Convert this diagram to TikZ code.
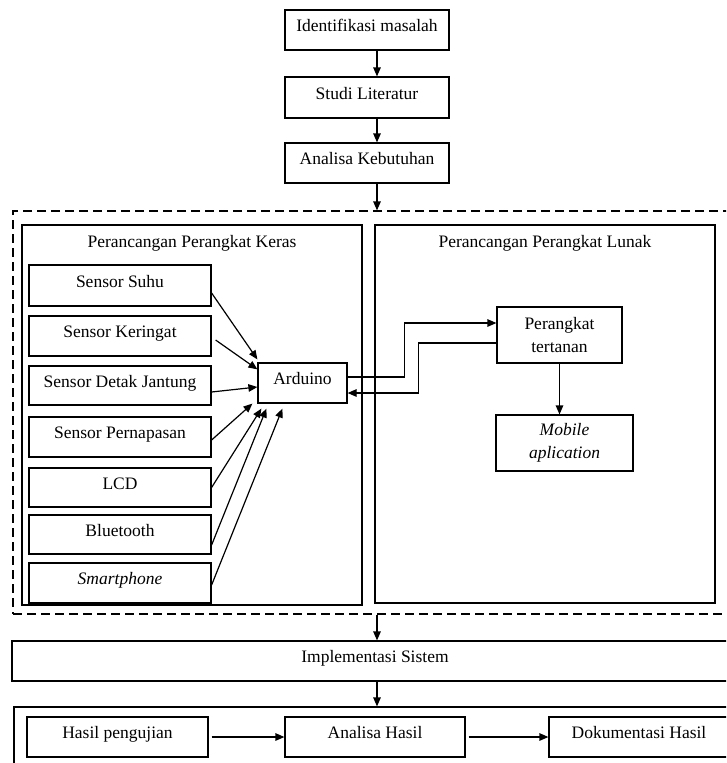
\documentclass[tikz,border=0pt]{standalone}
\usepackage{fontspec}
\setmainfont{Liberation Serif}
\usetikzlibrary{positioning}
\usetikzlibrary{arrows.meta}
\tikzset{
    boxbase/.style = {rectangle, draw=black, line width=1.2pt, inner sep=0pt, minimum width=164pt, minimum height=40pt, align=center},
    box/.style = {boxbase, text height=12pt, text depth=9pt},
    sensor/.style = {box, minimum width=182pt},
    frame/.style = {rectangle, draw=black, line width=1.2pt, inner sep=0pt},
    dashframe/.style = {rectangle, draw=black, line width=1.2pt, dash pattern=on 9pt off 5pt, inner sep=0pt},
    title/.style = {anchor=north, inner sep=0pt, yshift=-11pt},
    edgen/.style = {-{Triangle[length=9pt,width=7.5pt]}, line width=1.2pt},
    edgel/.style = {-{Triangle[length=9pt,width=7.5pt]}, line width=1.2pt, line join=miter}
}
\begin{document}
\begin{tikzpicture}[x=1pt,y=-1pt,font=\fontsize{17.5}{23}\selectfont]
\useasboundingbox (0,0) rectangle (726,763);
\clip (0,0) rectangle (726,763);
%
\coordinate (ax) at (377,0);
\node[box] at (367,30) (iden) {Identifikasi masalah};
\node[box, minimum height=41pt] at (367,97.5) (studi) {Studi Literatur};
\node[box] at (367,163) (kebutuhan) {Analisa Kebutuhan};
%
\node[dashframe, minimum width=760pt, minimum height=403pt] at (393,412.5) (desain) {};
\node[frame, minimum width=340pt, minimum height=380pt, label={[title]north:Perancangan Perangkat Keras}] at (192,415) (keras) {};
\node[frame, minimum width=340pt, minimum height=378pt, label={[title]north:Perancangan Perangkat Lunak}] at (545,414) (lunak) {};
%
\node[sensor, minimum height=41pt] at (120,285.5) (suhu) {Sensor Suhu};
\node[sensor] at (120,336) (keringat) {Sensor Keringat};
\node[sensor, minimum height=39pt] at (120,385.5) (detak) {Sensor Detak Jantung};
\node[sensor] at (120,437) (napas) {Sensor Pernapasan};
\node[sensor, minimum height=39pt] at (120,487.5) (lcd) {LCD};
\node[sensor, minimum height=39pt] at (120,534.5) (bt) {Bluetooth};
\node[sensor] at (120,583) (phone) {\textit{Smartphone}};
%
\node[box, minimum width=89pt] at (302.5,383) (arduino) {Arduino};
\node[boxbase, minimum width=125pt, minimum height=56pt] at (559.5,335) (tertanan) {Perangkat\\tertanan};
\node[boxbase, minimum width=137pt, minimum height=56pt] at (564.5,443) (mobile) {\textit{Mobile}\\\textit{aplication}};
%
\node[box, minimum width=726pt] at (375,661) (impl) {Implementasi Sistem};
\node[frame, minimum width=726pt, minimum height=68pt] at (377,741) (uji) {};
\node[box, minimum width=181pt] at (117.5,737) (hasil) {Hasil pengujian};
\node[box, minimum width=180pt] at (375,737) (analisa) {Analisa Hasil};
\node[box, minimum width=180pt] at (639,737) (dok) {Dokumentasi Hasil};
%
\draw[edgen] (iden.south -| ax) -- (studi.north -| ax);
\draw[edgen] (studi.south -| ax) -- (kebutuhan.north -| ax);
\draw[edgen] (kebutuhan.south -| ax) -- (desain.north -| ax);
\draw[edgen] (desain.south -| ax) -- (impl.north -| ax);
\draw[edgen] (impl.south -| ax) -- (uji.north -| ax);
%
\draw[edgen] ([yshift=-7.5pt]suhu.east) -- ([yshift=3pt]arduino.north west);
\draw[edgen] ([xshift=4pt,yshift=-4pt]keringat.east) -- ([yshift=-7pt]arduino.north west);
\draw[edgen] ([yshift=-6.5pt]detak.east) -- ([yshift=-4pt]arduino.west);
\draw[edgen] ([yshift=-3pt]napas.east) -- ([xshift=-5pt]arduino.south west);
\draw[edgen] (lcd.east) -- ([xshift=4pt,yshift=-5pt]arduino.south west);
\draw[edgen] ([yshift=-10.5pt]bt.east) -- ([xshift=9pt,yshift=-5pt]arduino.south west);
\draw[edgen] ([yshift=-2pt]phone.east) -- ([xshift=25pt,yshift=-5pt]arduino.south west);
%
\draw[edgel] ([yshift=6pt]arduino.east) -- ++(57,0) |- ([yshift=12pt]tertanan.west);
\draw[edgel] ([yshift=-8pt]tertanan.west) -- ++(-78,0) |- ([yshift=-10pt]arduino.east);
\draw[edgen] (tertanan.south) -- (tertanan.south |- mobile.north);
%
\draw[edgen] ([xshift=3pt]hasil.east) -- (analisa.west);
\draw[edgen] ([xshift=3pt]analisa.east) -- (dok.west);

\end{tikzpicture}
\end{document}
